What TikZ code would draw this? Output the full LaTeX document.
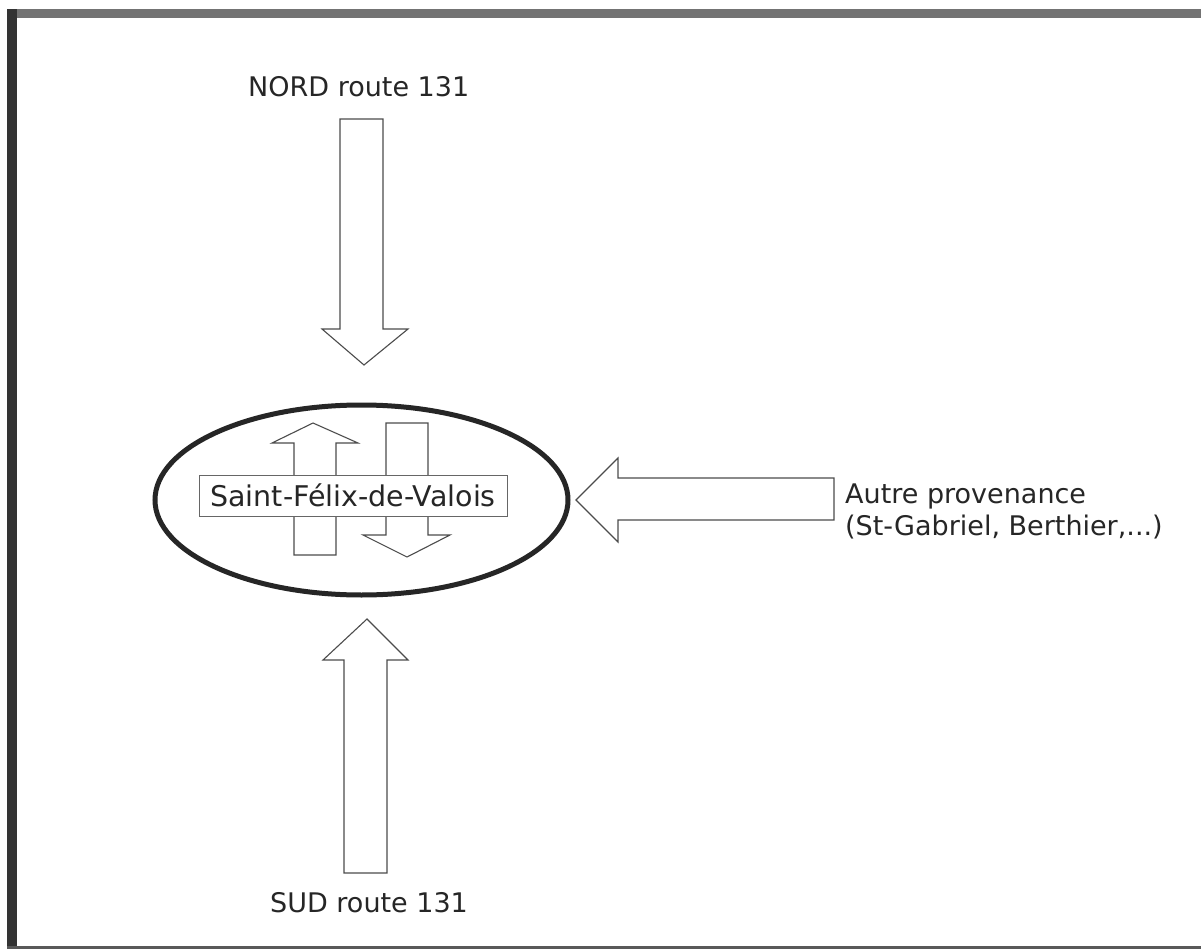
\documentclass[tikz,border=0pt]{standalone}
\usepackage{fontspec}
\setmainfont{DejaVu Sans}
\usetikzlibrary{shapes.geometric}
\begin{document}
\begin{tikzpicture}[x=1pt,y=-1pt,
  blockarrow/.style={draw=black!70,line width=1.1pt,fill=white,line join=miter},
  lbl/.style={inner sep=0pt,text=black!85,font=\fontsize{27}{32}\selectfont}]
\useasboundingbox (0,0) rectangle (1201,949);
\fill[white] (0,0) rectangle (1201,949);
% frame
\fill[black!55] (7,9) rectangle (1201,18);
\fill[black!80] (7,9) rectangle (17,949);
\fill[black!65] (7,946) rectangle (1201,949);
% north arrow
\draw[blockarrow] (340,119) -- (383,119) -- (383,329) -- (408,329) -- (364,365) -- (322,329) -- (340,329) -- cycle;
% south arrow
\draw[blockarrow] (344,873) -- (387,873) -- (387,660) -- (408,660) -- (367,619) -- (323,660) -- (344,660) -- cycle;
% east arrow
\draw[blockarrow] (834,478) -- (834,520) -- (618,520) -- (618,542) -- (576,500) -- (618,458) -- (618,478) -- cycle;
% ellipse
\node[draw=black!85,line width=5pt,ellipse,minimum width=413pt,minimum height=190pt,inner sep=0pt,outer sep=0pt] (zone) at (361.5,500) {};
% inner arrows
\draw[blockarrow] (294,555) -- (336,555) -- (336,443) -- (358,443) -- (313,423) -- (272,443) -- (294,443) -- cycle;
\draw[blockarrow] (386,423) -- (428,423) -- (428,535) -- (450,535) -- (407,557) -- (363,535) -- (386,535) -- cycle;
% town label
\node[lbl,font=\fontsize{28.5}{32}\selectfont,draw=black!60,line width=1pt,fill=white,minimum width=308pt,minimum height=41pt] (town) at (353,495.5) {Saint-Félix-de-Valois};
% texts
\node[lbl,anchor=base west] (nord) at (248,97) {NORD route 131};
\node[lbl,anchor=base west] (sud) at (270,912) {SUD route 131};
\node[lbl,anchor=base west] (autre) at (845,503) {\begin{tabular}[t]{@{}l@{}}Autre provenance\\(St-Gabriel, Berthier,...)\end{tabular}};
\end{tikzpicture}
\end{document}
